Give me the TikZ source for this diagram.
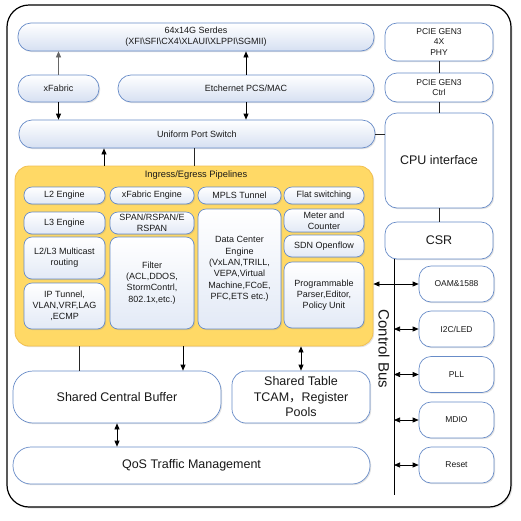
\documentclass[tikz,border=0pt]{standalone}
\usepackage{fontspec}
\setmainfont{Liberation Sans}
\newfontfamily\cjk{Noto Sans CJK SC}
\usetikzlibrary{arrows.meta,shadows,calc}
\definecolor{bblue}{RGB}{104,140,200}
\definecolor{lblue}{RGB}{214,224,242}
\definecolor{yfill}{RGB}{255,217,102}
\definecolor{ydraw}{RGB}{242,192,80}
\definecolor{txt}{RGB}{25,25,25}
\begin{document}
\begin{tikzpicture}[x=1pt,y=-1pt,
  shd/.style={drop shadow={opacity=0.22,shadow xshift=1.2pt,shadow yshift=-1.2pt}},
  base/.style={draw=bblue,line width=0.7pt,align=center,inner sep=1pt,text=txt,shd},
  gbox/.style={base,rounded corners=13pt,top color=white,bottom color=lblue,font=\fontsize{9}{10.8}\selectfont},
  ibox/.style={base,rounded corners=8pt,top color=white,bottom color=lblue!70,font=\fontsize{9}{11.3}\selectfont},
  wbox/.style={base,rounded corners=12pt,fill=white,font=\fontsize{8.5}{10.5}\selectfont},
  bigbox/.style={base,rounded corners=18pt,fill=white,font=\fontsize{12.5}{15.5}\selectfont},
  arr/.style={-{Triangle[length=6pt,width=5pt]},line width=0.7pt,draw=black},
  darr/.style={{Triangle[length=6pt,width=5pt]}-{Triangle[length=6pt,width=5pt]},line width=0.7pt,draw=black},
  ln/.style={line width=0.8pt,draw=black!85},
]
\useasboundingbox (0,0) rectangle (521,520);
\node[draw=black,line width=1.2pt,rounded corners=22pt,minimum width=504pt,minimum height=502pt,inner sep=0pt,
  drop shadow={opacity=0.2,shadow xshift=1.5pt,shadow yshift=-1.5pt},fill=white] (frame) at (259,256) {};

% top left
\node[gbox,minimum width=356pt,minimum height=28pt] (serdes) at (196,37) {64x14G Serdes\\(XFI\textbackslash SFI\textbackslash CX4\textbackslash XLAUI\textbackslash XLPPI\textbackslash SGMII)};
\node[gbox,minimum width=81pt,minimum height=27pt] (xfab) at (58.5,88.5) {xFabric};
\node[gbox,minimum width=256pt,minimum height=27pt] (eth) at (246,88.5) {Etchernet PCS/MAC};
\node[gbox,minimum width=356pt,minimum height=28pt] (ups) at (197,134) {Uniform Port Switch};

% right column
\node[wbox,minimum width=108pt,minimum height=38pt] (phy) at (439,42) {PCIE GEN3\\4X\\PHY};
\node[wbox,minimum width=108pt,minimum height=29pt] (ctrl) at (439,87.5) {PCIE GEN3\\Ctrl};
\node[wbox,minimum width=108pt,minimum height=95pt,font=\fontsize{12.5}{15}\selectfont] (cpu) at (439,160.5) {CPU interface};
\node[wbox,minimum width=108pt,minimum height=37pt,font=\fontsize{12.5}{15}\selectfont] (csr) at (439,240.5) {CSR};
\node[wbox,minimum width=75pt,minimum height=36pt] (oam) at (456.5,284) {OAM\&1588};
\node[wbox,minimum width=75pt,minimum height=36pt] (i2c) at (456.5,329) {I2C/LED};
\node[wbox,minimum width=75pt,minimum height=36pt] (pll) at (456.5,374.5) {PLL};
\node[wbox,minimum width=75pt,minimum height=36pt] (mdio) at (456.5,420) {MDIO};
\node[wbox,minimum width=75pt,minimum height=36pt] (reset) at (456.5,465) {Reset};

% pipelines
\node[draw=ydraw,fill=yfill,line width=0.8pt,rounded corners=14pt,minimum width=358pt,minimum height=180pt,inner sep=0pt,shd] (pipe) at (194,256) {};
\node[font=\fontsize{9.3}{11}\selectfont,text=txt,anchor=center] (pipelbl) at (196,175) {Ingress/Egress Pipelines};
\node[ibox,minimum width=81pt,minimum height=17pt] (l2) at (64.5,195.5) {L2 Engine};
\node[ibox,minimum width=84pt,minimum height=17pt] (xfe) at (152,195.5) {xFabric Engine};
\node[ibox,minimum width=83pt,minimum height=17pt] (mpls) at (239.5,195.5) {MPLS Tunnel};
\node[ibox,minimum width=80pt,minimum height=17pt] (flat) at (324,195.5) {Flat switching};
\node[ibox,minimum width=81pt,minimum height=22pt] (l3) at (64.5,223) {L3 Engine};
\node[ibox,minimum width=84pt,minimum height=22pt] (span) at (152,223) {SPAN/RSPAN/E\\RSPAN};
\node[ibox,minimum width=81pt,minimum height=42pt] (mc) at (64.5,258) {L2/L3 Multicast\\routing};
\node[ibox,minimum width=81pt,minimum height=46pt] (ipt) at (64.5,306) {IP Tunnel,\\VLAN,VRF,LAG\\,ECMP};
\node[ibox,minimum width=84pt,minimum height=92pt] (filter) at (152,283) {Filter\\(ACL,DDOS,\\StormContrl,\\802.1x,etc.)};
\node[ibox,minimum width=83pt,minimum height=120pt] (dc) at (239.5,269) {Data Center\\Engine\\(VxLAN,TRILL,\\VEPA,Virtual\\Machine,FCoE,\\PFC,ETS etc.)};
\node[ibox,minimum width=80pt,minimum height=23pt] (meter) at (324,220.5) {Meter and\\Counter};
\node[ibox,minimum width=80pt,minimum height=22pt] (sdn) at (324,246) {SDN Openflow};
\node[ibox,minimum width=80pt,minimum height=66pt] (prog) at (324,295) {Programmable\\Parser,Editor,\\Policy Unit};

% bottom
\node[bigbox,minimum width=208pt,minimum height=52pt,rounded corners=20pt] (buf) at (117,397) {Shared Central Buffer};
\node[bigbox,minimum width=138pt,minimum height=52pt,rounded corners=14pt] (tbl) at (301,397) {Shared Table\\TCAM{\cjk ，}Register\\Pools};
\node[bigbox,minimum width=357pt,minimum height=37pt] (qos) at (191.5,465.5) {QoS Traffic Management};

% control bus
\coordinate (busx) at (394,0);
\coordinate (busbot) at (394,495);
\draw[line width=1pt] (csr.south -| busx) -- (busbot);
\node[rotate=-90,font=\fontsize{15}{17}\selectfont,text=txt] (buslbl) at (384,349) {Control Bus};

% connectors top
\draw[arr,draw=black!60] (xfab.north) -- (xfab.north |- serdes.south);
\draw[arr] (xfab.south) -- (xfab.south |- ups.north);
\draw[arr] (eth.north) -- (eth.north |- serdes.south);
\draw[arr] (eth.south) -- (eth.south |- ups.north);
\coordinate (ax1) at (104,0);
\coordinate (ax2) at (194,0);
\draw[arr] (ax1 |- pipe.north) -- (ax1 |- ups.south);
\draw[ln] (ax2 |- ups.south) -- (ax2 |- pipe.north);
\draw[ln] (ups.east) -- (ups.east -| cpu.west);
\draw[ln] (phy.south) -- (ctrl.north);
\draw[ln] (ctrl.south) -- (cpu.north);
\draw[ln] (cpu.south) -- (csr.north);

% bus arrows
\draw[darr] (oam.west -| pipe.east) -- (oam.west);
\draw[darr] (i2c.west -| busx) -- (i2c.west);
\draw[darr] (pll.west -| busx) -- (pll.west);
\draw[darr] (mdio.west -| busx) -- (mdio.west);
\draw[darr] (reset.west -| busx) -- (reset.west);

% bottom connectors
\coordinate (bx1) at (79,0);
\coordinate (bx2) at (183,0);
\coordinate (bx3) at (301,0);
\coordinate (bx4) at (117,0);
\draw[ln] (bx1 |- pipe.south) -- (bx1 |- buf.north);
\draw[arr] (bx2 |- pipe.south) -- (bx2 |- buf.north);
\draw[darr] (bx3 |- pipe.south) -- (bx3 |- tbl.north);
\draw[darr] (bx4 |- buf.south) -- (bx4 |- qos.north);
\end{tikzpicture}
\end{document}
